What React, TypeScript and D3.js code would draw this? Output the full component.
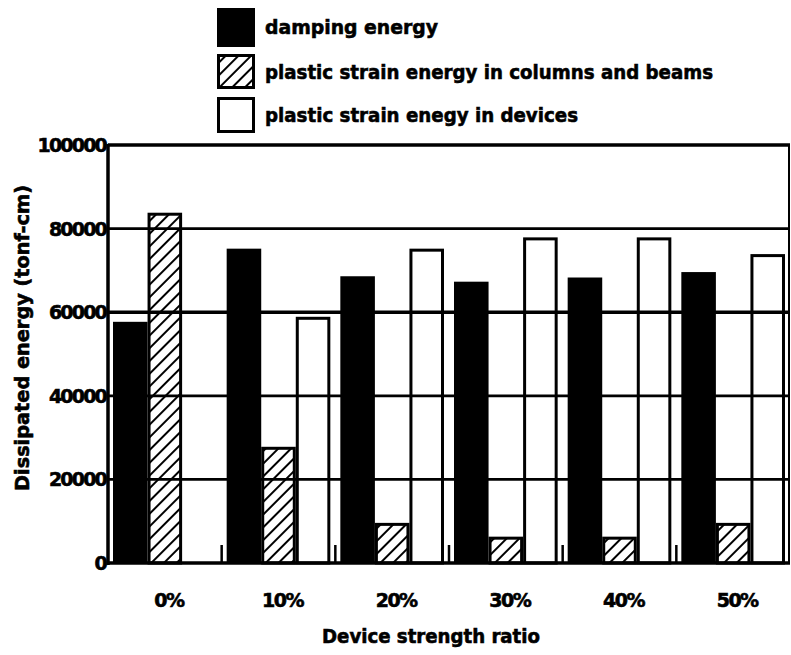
import React from "react";
import * as d3 from "d3";

const categories = ["0%", "10%", "20%", "30%", "40%", "50%"];
const seriesNames = [
  "damping energy",
  "plastic strain energy in columns and beams",
  "plastic strain enegy in devices",
];
const dampingEnergy = [57700, 75200, 68600, 67300, 68300, 69600];
const plasticFrame = [83800, 27800, 9600, 6300, 6300, 9600];
const plasticDevices = [0, 58900, 75200, 77900, 77900, 73900];
const yTicks = [0, 20000, 40000, 60000, 80000, 100000];
const yTickLabels = ["0", "20000", "40000", "60000", "80000", "100000"];

const FONT = "'DejaVu Sans', 'Liberation Sans', sans-serif";

export default function App() {
  const W = 791, H = 655;
  const left = 108, right = 790, top = 145, bottom = 563;
  const x = d3.scaleBand<string>().domain(categories).range([left, right]).padding(0);
  const inner = d3
    .scaleBand<string>()
    .domain(["d", "p", "v"])
    .range([5, x.bandwidth() - 5])
    .padding(0);
  const y = d3.scaleLinear().domain([0, 100000]).range([bottom, top]);

  const seriesData = [
    { key: "d", values: dampingEnergy, style: "black" },
    { key: "p", values: plasticFrame, style: "hatch" },
    { key: "v", values: plasticDevices, style: "white" },
  ];

  const legendY = [8, 54, 97];
  const legendH = [39, 35, 36];
  const legendTextY = [27, 72, 115];
  const legendLen = [173, 448, 313];
  const textStroke = { stroke: "black", strokeWidth: 0.6 };

  return (
    <svg width={W} height={H} style={{ display: "block", position: "absolute", left: 0, top: 0 }}>
      <defs>
        <pattern id="hatch" patternUnits="userSpaceOnUse" width="9" height="9" patternTransform="rotate(45)">
          <rect width="9" height="9" fill="white" />
          <line x1="0" y1="0" x2="0" y2="9" stroke="black" strokeWidth="4" />
        </pattern>
      </defs>
      <rect width={W} height={H} fill="white" />

      {/* bars */}
      {seriesData.map((s) =>
        s.values.map((v, i) => {
          if (v <= 0) return null;
          const bx = (x(categories[i]) as number) + (inner(s.key) as number);
          const bw = inner.bandwidth();
          const by = y(v);
          const bh = bottom - by;
          if (s.style === "black")
            return <rect key={s.key + i} x={bx} y={by} width={bw} height={bh} fill="black" />;
          return (
            <rect
              key={s.key + i}
              x={bx + 1.5}
              y={by + 1.5}
              width={bw - 3}
              height={bh - 1.5}
              fill={s.style === "hatch" ? "url(#hatch)" : "white"}
              stroke="black"
              strokeWidth={3}
            />
          );
        })
      )}

      {/* gridlines */}
      {yTicks.map((t) => (
        <line
          key={"g" + t}
          x1={left}
          x2={right}
          y1={y(t)}
          y2={y(t)}
          stroke="black"
          strokeWidth={t === 60000 || t === 100000 || t === 0 ? 3.5 : 2.8}
        />
      ))}
      {/* frame */}
      <line x1={left} x2={left} y1={top - 1} y2={bottom + 2} stroke="black" strokeWidth={3.5} />
      <line x1={right - 1} x2={right - 1} y1={top} y2={bottom} stroke="black" strokeWidth={2} />

      {/* group separators */}
      {categories.slice(1).map((c) => (
        <line
          key={"s" + c}
          x1={x(c) as number}
          x2={x(c) as number}
          y1={bottom - 18}
          y2={bottom}
          stroke="black"
          strokeWidth={2.5}
        />
      ))}

      {/* y tick labels */}
      {yTicks.map((t, i) => (
        <text
          key={"yl" + t}
          x={left - 2}
          y={y(t) + 7}
          textAnchor="end"
          fontFamily={FONT}
          fontWeight="bold"
          fontSize={19}
          letterSpacing={-1.8}
          {...textStroke}
        >
          {yTickLabels[i]}
        </text>
      ))}

      {/* x tick labels */}
      {categories.map((c) => (
        <text
          key={"xl" + c}
          x={(x(c) as number) + x.bandwidth() / 2 + 4}
          y={607}
          textAnchor="middle"
          fontFamily={FONT}
          fontWeight="bold"
          fontSize={19}
          letterSpacing={-1.5}
          {...textStroke}
        >
          {c}
        </text>
      ))}

      {/* axis titles */}
      <text
        x={431}
        y={643}
        textAnchor="middle"
        fontFamily={FONT}
        fontWeight="bold"
        fontSize={19}
        textLength={218}
        lengthAdjust="spacingAndGlyphs"
        {...textStroke}
      >
        Device strength ratio
      </text>
      <text
        transform="translate(29,338) rotate(-90)"
        textAnchor="middle"
        fontFamily={FONT}
        fontWeight="bold"
        fontSize={19}
        textLength={306}
        lengthAdjust="spacingAndGlyphs"
        {...textStroke}
      >
        Dissipated energy (tonf-cm)
      </text>

      {/* legend */}
      {seriesData.map((s, i) => (
        <g key={"lg" + i}>
          <rect
            x={s.style === "black" ? 217 : 218.5}
            y={s.style === "black" ? legendY[i] : legendY[i] + 1.5}
            width={s.style === "black" ? 38 : 35}
            height={s.style === "black" ? legendH[i] : legendH[i] - 3}
            fill={s.style === "black" ? "black" : s.style === "hatch" ? "url(#hatch)" : "white"}
            stroke={s.style === "black" ? "none" : "black"}
            strokeWidth={3}
          />
          <text
            x={265}
            y={legendTextY[i] + 7}
            fontFamily={FONT}
            fontWeight="bold"
            fontSize={20}
            textLength={legendLen[i]}
            lengthAdjust="spacingAndGlyphs"
            {...textStroke}
          >
            {seriesNames[i]}
          </text>
        </g>
      ))}
    </svg>
  );
}
